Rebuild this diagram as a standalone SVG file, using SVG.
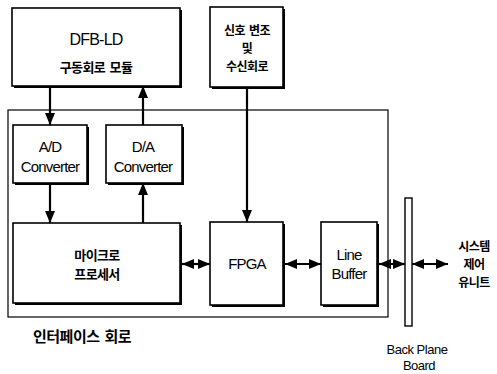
<svg xmlns="http://www.w3.org/2000/svg" width="497" height="374" viewBox="0 0 497 374">
<style>
.box{fill:#fff;stroke:#000;stroke-width:1.6}
.sh{fill:#000}
.outer{fill:none;stroke:#000;stroke-width:1.2}
.ln{stroke:#000;stroke-width:2.2;fill:none}
.en{font-family:"Liberation Sans",Arial,sans-serif;font-size:15px;letter-spacing:-0.8px;text-anchor:middle;fill:#000}
.ko{font-family:"Noto Sans CJK KR","Noto Sans",sans-serif;font-size:12px;font-weight:bold;letter-spacing:-0.6px;word-spacing:2px;text-anchor:middle;fill:#000}
</style>
<defs>
<marker id="ah" viewBox="0 0 12 10" refX="12" refY="5" markerWidth="12" markerHeight="10" orient="auto-start-reverse" markerUnits="userSpaceOnUse">
<path d="M0,0 L12,5 L0,10 z" fill="#000"/>
</marker>
</defs>
<rect width="497" height="374" fill="#fff"/>
<g id="interface">
<rect class="outer" x="8" y="110" width="380" height="207"/>
<text class="ko" x="82" y="342" style="font-size:15px;letter-spacing:-0.5px">인터페이스 회로</text>
</g>
<g id="dfb">
<rect class="sh" x="14" y="10" width="168" height="78"/>
<rect class="box" x="12" y="8" width="168" height="78"/>
<text class="en" x="96" y="45" style="font-size:16px">DFB-LD</text>
<text class="ko" x="96" y="72" style="font-size:13px">구동회로 모듈</text>
</g>
<g id="signal">
<rect class="sh" x="212" y="9" width="73" height="80"/>
<rect class="box" x="210" y="7" width="73" height="80"/>
<text class="ko" x="247" y="35">신호 변조</text>
<text class="ko" x="247" y="53">및</text>
<text class="ko" x="247" y="71">수신회로</text>
</g>
<g id="ad">
<rect class="sh" x="15" y="127" width="74" height="58"/>
<rect class="box" x="13" y="125" width="74" height="58"/>
<text class="en" x="50" y="152">A/D</text>
<text class="en" x="50" y="172">Converter</text>
</g>
<g id="da">
<rect class="sh" x="108" y="127" width="76" height="58"/>
<rect class="box" x="106" y="125" width="76" height="58"/>
<text class="en" x="143" y="152">D/A</text>
<text class="en" x="143" y="172">Converter</text>
</g>
<g id="micro">
<rect class="sh" x="15" y="225" width="167" height="80"/>
<rect class="box" x="13" y="223" width="167" height="80"/>
<text class="ko" x="97" y="260" style="font-size:13px">마이크로</text>
<text class="ko" x="97" y="279" style="font-size:13px">프로세서</text>
</g>
<g id="fpga">
<rect class="sh" x="212" y="224" width="73" height="83"/>
<rect class="box" x="210" y="222" width="73" height="83"/>
<text class="en" x="247" y="269">FPGA</text>
</g>
<g id="linebuffer">
<rect class="sh" x="323" y="224" width="56" height="83"/>
<rect class="box" x="321" y="222" width="56" height="83"/>
<text class="en" x="349" y="260">Line</text>
<text class="en" x="349" y="279">Buffer</text>
</g>
<g id="backplane">
<rect class="box" x="405" y="198" width="7" height="128" style="stroke-width:1.4"/>
<text class="en" x="417" y="354" style="font-size:13px;letter-spacing:-0.5px">Back Plane</text>
<text class="en" x="419" y="370" style="font-size:13px;letter-spacing:-0.5px">Board</text>
</g>
<g id="system">
<text class="ko" x="474" y="251">시스템</text>
<text class="ko" x="474" y="269">제어</text>
<text class="ko" x="474" y="287">유니트</text>
</g>
<g id="connectors">
<line class="ln" x1="50" y1="86" x2="50" y2="125" marker-end="url(#ah)"/>
<line class="ln" x1="143" y1="125" x2="143" y2="86" marker-end="url(#ah)"/>
<line class="ln" x1="50" y1="183" x2="50" y2="223" marker-end="url(#ah)"/>
<line class="ln" x1="143" y1="223" x2="143" y2="183" marker-end="url(#ah)"/>
<line class="ln" x1="247" y1="87" x2="247" y2="222" marker-end="url(#ah)"/>
<line class="ln" x1="182" y1="264" x2="210" y2="264" marker-start="url(#ah)" marker-end="url(#ah)"/>
<line class="ln" x1="285" y1="264" x2="321" y2="264" marker-start="url(#ah)" marker-end="url(#ah)"/>
<line class="ln" x1="379" y1="264" x2="405" y2="264" marker-start="url(#ah)" marker-end="url(#ah)"/>
<line class="ln" x1="412" y1="264" x2="448" y2="264" marker-start="url(#ah)" marker-end="url(#ah)"/>
</g>
</svg>
